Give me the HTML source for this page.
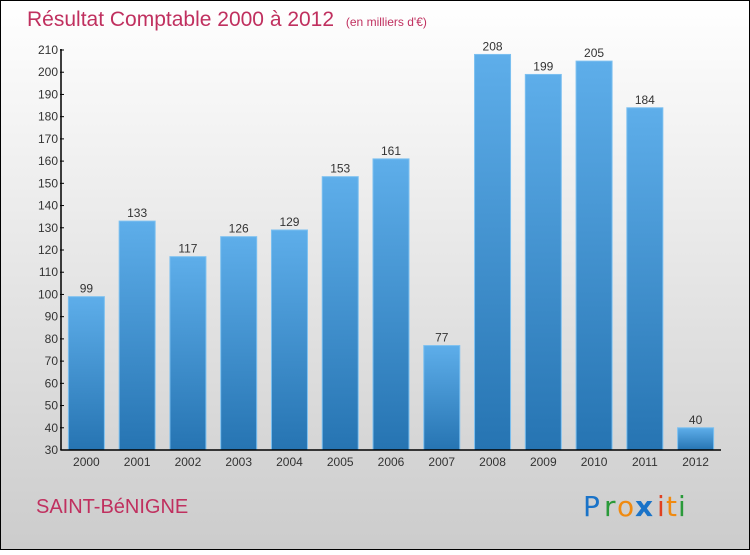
<!DOCTYPE html>
<html><head><meta charset="utf-8"><style>
body{margin:0;}
#c{width:750px;height:550px;position:relative;font-family:"Liberation Sans",sans-serif;}
</style></head><body>
<div id="c">
<svg id="s" width="750" height="550" xmlns="http://www.w3.org/2000/svg">
<defs>
<linearGradient id="bg" x1="0" y1="0" x2="0" y2="1"><stop offset="0" stop-color="#ffffff"/><stop offset="1" stop-color="#cccccc"/></linearGradient>
<linearGradient id="bar" x1="0" y1="0" x2="0" y2="1"><stop offset="0" stop-color="#5eaeea"/><stop offset="1" stop-color="#2674b2"/></linearGradient>
</defs>
<rect x="0.5" y="0.5" width="749" height="549" fill="url(#bg)" stroke="#000"/>
<text x="27" y="26" font-size="21" fill="#c0305f">Résultat Comptable 2000 à 2012 <tspan font-size="12" dx="6">(en milliers d'€)</tspan></text>
<g id="bars"></g>
<g id="axes"></g>
<text x="36" y="513" font-size="20" fill="#c0305f">SAINT-BéNIGNE</text>
<g font-size="28" font-family="'DejaVu Sans',sans-serif">
<text x="583" y="516" fill="#1a73c8">P</text><text x="604" y="516" fill="#2a9a3a">r</text><text x="617" y="516" fill="#f08a10">o</text><text x="635" y="516" fill="#1a73c8" font-weight="bold">x</text><text x="657" y="516" fill="#e04020">i</text><text x="666" y="516" fill="#f08a10">t</text><text x="678" y="516" fill="#2a9a3a">i</text>
</g>
</svg>
</div>
<script>
const categories=["2000","2001","2002","2003","2004","2005","2006","2007","2008","2009","2010","2011","2012"];
const values=[99,133,117,126,129,153,161,77,208,199,205,184,40];
const yTicks=[30,40,50,60,70,80,90,100,110,120,130,140,150,160,170,180,190,200,210];
const NS="http://www.w3.org/2000/svg";
const x0=61,x1=721,yTop=50,yBot=450,vMin=30,vMax=210;
const band=(x1-x0)/categories.length;
function xs(i){return x0+band*(i+0.5);}
function ys(v){return yBot-(v-vMin)/(vMax-vMin)*(yBot-yTop);}
function mk(t,a){const e=document.createElementNS(NS,t);for(const k in a)e.setAttribute(k,a[k]);return e;}
const gb=document.getElementById('bars'),ga=document.getElementById('axes');
values.forEach((v,i)=>{
 const w=36,cx=xs(i),y=ys(v);
 const r=mk('rect',{x:cx-w/2,y:y,width:w,height:yBot-y,fill:'url(#bar)',stroke:'#7cc0f0','stroke-width':1});
 
 
 gb.appendChild(r);
 const t=mk('text',{x:cx,y:y-4,'text-anchor':'middle','font-size':12,fill:'#333'});
 t.textContent=v;
 
 
 gb.appendChild(t);
 const xl=mk('text',{x:cx,y:466,'text-anchor':'middle','font-size':12,fill:'#333'});
 xl.textContent=categories[i];
 
 
 ga.appendChild(xl);
});
const yl=mk('line',{x1:x0,y1:yTop-1,x2:x0,y2:yBot,stroke:'#000','stroke-width':1.5});


ga.appendChild(yl);
const xl=mk('line',{x1:x0,y1:yBot,x2:x1,y2:yBot,stroke:'#000','stroke-width':1.5});


ga.appendChild(xl);
yTicks.forEach(v=>{
 const y=ys(v);
 const tk=mk('line',{x1:x0-1,y1:y,x2:x0+3,y2:y,stroke:'#000','stroke-width':1});
 
 
 ga.appendChild(tk);
 const t=mk('text',{x:x0-3,y:y+4,'text-anchor':'end','font-size':12,fill:'#333'});
 t.textContent=v;
 
 
 ga.appendChild(t);
});
</script>
</body></html>
